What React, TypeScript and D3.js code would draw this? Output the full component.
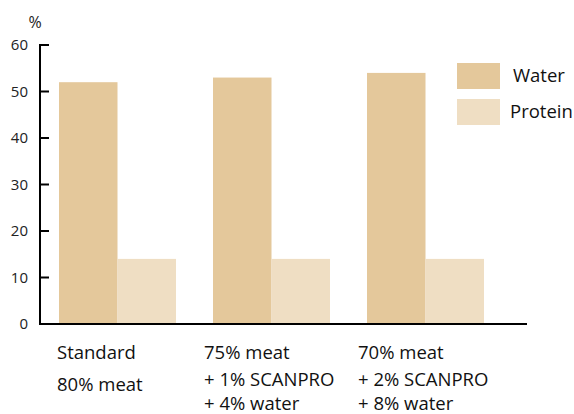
import React from "react";
import * as d3 from "d3";

const categories = ["Standard", "75% meat", "70% meat"];
const categoryLines = [
  ["Standard", "80% meat"],
  ["75% meat", "+ 1% SCANPRO", "+ 4% water"],
  ["70% meat", "+ 2% SCANPRO", "+ 8% water"],
];
const seriesNames = ["Water", "Protein"];
const waterValues = [52, 53, 54];
const proteinValues = [14, 14, 14];
const yTicks = [0, 10, 20, 30, 40, 50, 60];
const colors = ["#E4C89B", "#EFDEC3"];

export default function App() {
  const W = 574, H = 414;
  const x0 = 40, x1 = 527, yTop = 45, yBot = 324;
  const y = d3.scaleLinear().domain([0, 60]).range([yBot, yTop]);
  const xg = d3.scaleBand().domain(categories).range([59, 59 + 154 * 3]).paddingInner(0).paddingOuter(0);
  const barW = 58.5;
  const series = [waterValues, proteinValues];
  const font = "'Open Sans', sans-serif";
  const labelX = [-2, -9, -9];
  const lineYs = [[353, 385], [353, 380, 404], [353, 380, 404]];
  return (
    <svg width={W} height={H} style={{ position: "absolute", left: 0, top: 0 }} fontFamily={font}>
      <rect width={W} height={H} fill="#fff" />
      {series.map((vals, si) =>
        vals.map((v, ci) => (
          <rect
            key={`${si}-${ci}`}
            x={(xg(categories[ci]) as number) + si * barW}
            y={y(v)}
            width={barW}
            height={yBot - y(v)}
            fill={colors[si]}
          />
        ))
      )}
      <line x1={x0} x2={x0} y1={yTop - 1} y2={yBot + 1} stroke="#000" strokeWidth={2} />
      <line x1={x0 - 1} x2={x1} y1={yBot} y2={yBot} stroke="#000" strokeWidth={2} />
      {yTicks.map((t) => (
        <g key={t}>
          <line x1={x0} x2={x0 + 9} y1={y(t)} y2={y(t)} stroke="#000" strokeWidth={2} />
          <text x={28} y={y(t)} dy="0.35em" textAnchor="end" fontSize={15} fill="#222">
            {t}
          </text>
        </g>
      ))}
      <text x={35} y={22} dy="0.35em" textAnchor="middle" fontSize={16} fill="#222">%</text>
      {categoryLines.map((lines, ci) =>
        lines.map((ln, li) => (
          <text
            key={`${ci}-${li}`}
            x={(xg(categories[ci]) as number) + labelX[ci]}
            y={lineYs[ci][li]}
            dy="0.35em"
            fontSize={18.5}
            fill="#111"
          >
            {ln}
          </text>
        ))
      )}
      {seriesNames.map((n, i) => (
        <g key={n}>
          <rect x={457} y={63 + i * 36} width={43} height={26} fill={colors[i]} />
          <text x={i === 0 ? 513 : 510} y={76 + i * 36} dy="0.35em" fontSize={18.5} fill="#111">
            {n}
          </text>
        </g>
      ))}
    </svg>
  );
}
